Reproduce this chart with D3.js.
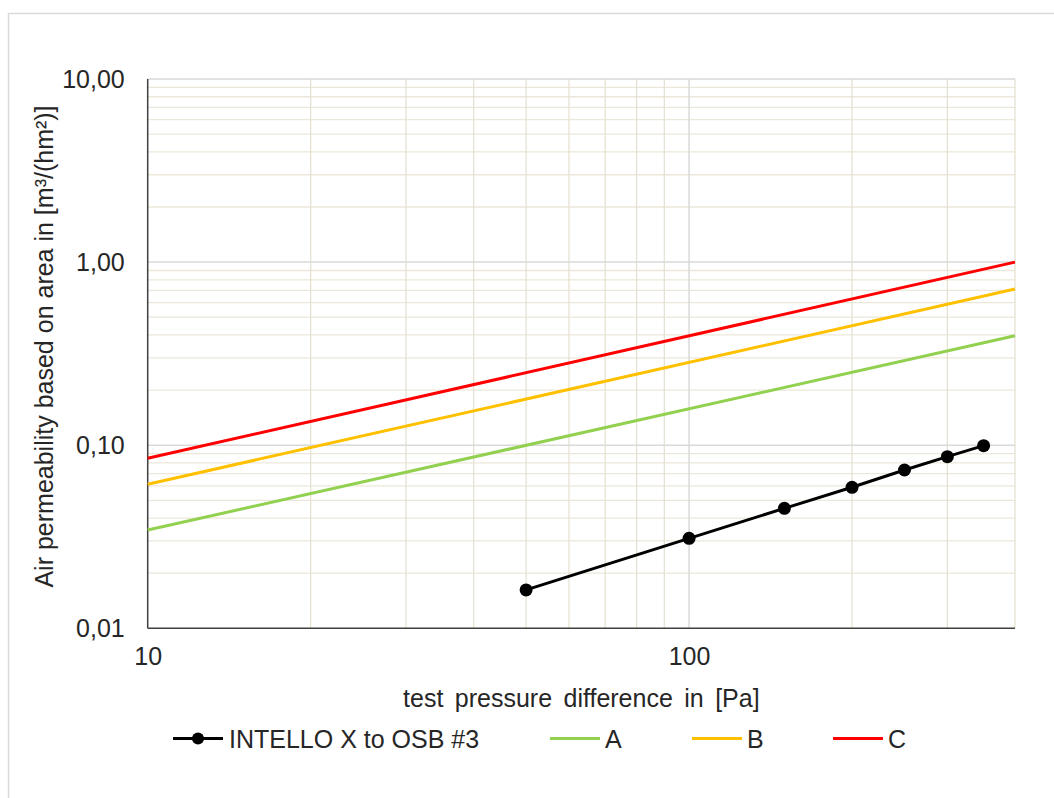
<!DOCTYPE html>
<html>
<head>
<meta charset="utf-8">
<script src="https://cdn.jsdelivr.net/npm/d3@7"></script>
<style>
  html, body { margin: 0; padding: 0; background: #fff; }
  svg { display: block; font-family: "Liberation Sans", Arial, sans-serif; }
</style>
</head>
<body>
<svg id="chart" width="1054" height="798"></svg>
<script>
// ---- data ----
const measuredPressures = [50, 100, 150, 200, 250, 300, 350];
const measuredValues = [0.0162, 0.0310, 0.0452, 0.0589, 0.0732, 0.0866, 0.0994];
const classPressures = [10, 400];
const classA = [0.0344, 0.396];
const classB = [0.0612, 0.713];
const classC = [0.0848, 1.0];
const seriesNames = ["INTELLO X to OSB #3", "A", "B", "C"];
const yTickValues = [0.01, 0.1, 1, 10];
const yTickLabels = ["0,01", "0,10", "1,00", "10,00"];
const xTickValues = [10, 100];
const xTickLabels = ["10", "100"];
const xTitle = "test pressure difference in [Pa]";
const yTitle = "Air permeability based on area in [m³/(hm²)]";

const colors = { A: "#92d050", B: "#ffc000", C: "#ff0000", M: "#000000" };
const FS = 25;

const svg = d3.select("#chart");
const L = 147.7, R = 1015, T = 79, B = 628.3;

// outer chart border
svg.append("rect").attr("x", 8.5).attr("y", 13.5).attr("width", 1100).attr("height", 900)
  .attr("fill", "none").attr("stroke", "#d9d9d9").attr("stroke-width", 1.5);

const x = d3.scaleLog().domain([10, 400]).range([L, R]);
const y = d3.scaleLog().domain([0.01, 10]).range([B, T]);

// gridlines
const g = svg.append("g");
const yMinor = [];
[0.01, 0.1, 1].forEach(d => { for (let k = 2; k <= 9; k++) yMinor.push(d * k); });
const xMinor = [];
[10, 100].forEach(d => { for (let k = 2; k <= 9; k++) if (d * k <= 400) xMinor.push(d * k); });

g.selectAll(".ymin").data(yMinor).join("line")
  .attr("x1", L).attr("x2", R).attr("y1", d => y(d)).attr("y2", d => y(d))
  .attr("stroke", "#ebe7d9").attr("stroke-width", 1.3);
g.selectAll(".xmin").data(xMinor).join("line")
  .attr("y1", T).attr("y2", B).attr("x1", d => x(d)).attr("x2", d => x(d))
  .attr("stroke", "#e6e2d2").attr("stroke-width", 1.3);
g.selectAll(".ymaj").data([0.1, 1, 10]).join("line")
  .attr("x1", L).attr("x2", R).attr("y1", d => y(d)).attr("y2", d => y(d))
  .attr("stroke", "#d9d9d9").attr("stroke-width", 1.5);
g.selectAll(".xmaj").data([100]).join("line")
  .attr("y1", T).attr("y2", B).attr("x1", d => x(d)).attr("x2", d => x(d))
  .attr("stroke", "#d9d9d9").attr("stroke-width", 1.5);

// axes lines
svg.append("line").attr("x1", L).attr("x2", L).attr("y1", T).attr("y2", B)
  .attr("stroke", "#404040").attr("stroke-width", 1.5);
svg.append("line").attr("x1", L).attr("x2", R).attr("y1", B).attr("y2", B)
  .attr("stroke", "#404040").attr("stroke-width", 1.5);

// tick labels via axes
const yAxis = d3.axisLeft(y).tickValues(yTickValues)
  .tickFormat((d, i) => yTickLabels[i]).tickSize(0).tickPadding(23);
const ya = svg.append("g").attr("transform", `translate(${L},0)`).call(yAxis);
ya.select(".domain").remove();
ya.selectAll("text").attr("font-size", FS).attr("fill", "#262626")
  .attr("font-family", "Liberation Sans, Arial, sans-serif");

const xAxis = d3.axisBottom(x).tickValues(xTickValues)
  .tickFormat((d, i) => xTickLabels[i]).tickSize(0).tickPadding(19);
const xa = svg.append("g").attr("transform", `translate(0,${B})`).call(xAxis);
xa.select(".domain").remove();
xa.selectAll("text").attr("font-size", FS).attr("fill", "#262626")
  .attr("font-family", "Liberation Sans, Arial, sans-serif");

// titles
svg.append("text").attr("x", (L + R) / 2).attr("y", 707).attr("text-anchor", "middle")
  .attr("font-size", FS).attr("fill", "#262626").attr("word-spacing", 4.5).text(xTitle);
svg.append("text").attr("transform", `translate(53,346.5) rotate(-90)`)
  .attr("text-anchor", "middle").attr("font-size", FS).attr("fill", "#262626").text(yTitle);

// series
const line = d3.line().x(d => x(d[0])).y(d => y(d[1]));
const classes = [["A", classA], ["B", classB], ["C", classC]];
classes.forEach(([k, vals]) => {
  svg.append("path").datum(classPressures.map((p, i) => [p, vals[i]]))
    .attr("d", line).attr("fill", "none").attr("stroke", colors[k]).attr("stroke-width", 3);
});
const meas = measuredPressures.map((p, i) => [p, measuredValues[i]]);
svg.append("path").datum(meas).attr("d", line).attr("fill", "none")
  .attr("stroke", colors.M).attr("stroke-width", 3);
svg.selectAll(".pt").data(meas).join("circle")
  .attr("cx", d => x(d[0])).attr("cy", d => y(d[1])).attr("r", 6.5).attr("fill", colors.M);

// legend
const ly = 738.5;
const leg = svg.append("g");
const legItems = [
  { name: seriesNames[0], c: colors.M, x0: 173, x1: 223, tx: 229, marker: true },
  { name: seriesNames[1], c: colors.A, x0: 550, x1: 600, tx: 605 },
  { name: seriesNames[2], c: colors.B, x0: 692, x1: 742, tx: 747 },
  { name: seriesNames[3], c: colors.C, x0: 833, x1: 883, tx: 888 }
];
legItems.forEach(it => {
  leg.append("line").attr("x1", it.x0).attr("x2", it.x1).attr("y1", ly).attr("y2", ly)
    .attr("stroke", it.c).attr("stroke-width", 3);
  if (it.marker) leg.append("circle").attr("cx", (it.x0 + it.x1) / 2).attr("cy", ly).attr("r", 6).attr("fill", it.c);
  leg.append("text").attr("x", it.tx).attr("y", ly + 9).attr("font-size", FS)
    .attr("fill", "#262626").text(it.name);
});
</script>
</body>
</html>
